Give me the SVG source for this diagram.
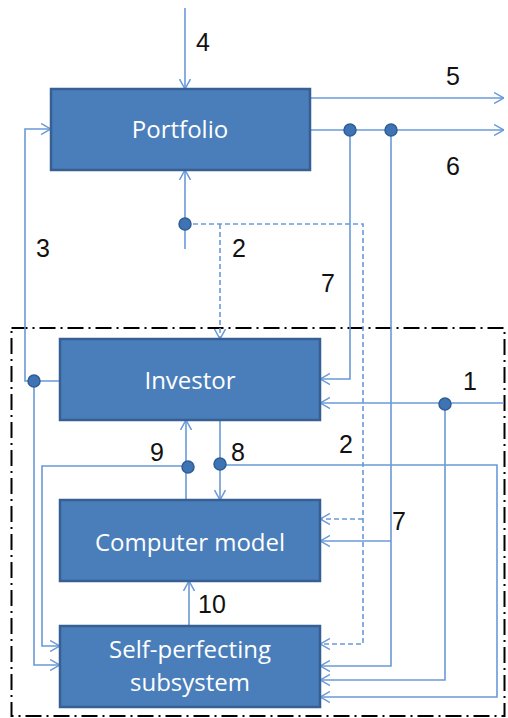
<svg xmlns="http://www.w3.org/2000/svg" width="508" height="718" viewBox="0 0 508 718">
<style>
.box{fill:#4a7ebb;stroke:#375f93;stroke-width:2.5}
.bt{font-family:"Open Sans","Liberation Sans",sans-serif;font-size:24px;fill:#ffffff;text-anchor:middle}
.ln{fill:none;stroke:#6a9ad8;stroke-width:1.6}
.ds{fill:none;stroke:#6a9ad8;stroke-width:1.6;stroke-dasharray:5 3}
.dot{fill:#3f74b4;stroke:#2f5d94;stroke-width:1.5}
.lab{font-family:"Liberation Sans",Arial,sans-serif;font-size:25px;fill:#111111}
.frame{fill:none;stroke:#000000;stroke-width:2;stroke-dasharray:16 5 2 5}
</style>
<defs>
<marker id="ah" viewBox="0 0 10 12" refX="10" refY="6" markerWidth="10" markerHeight="12" markerUnits="userSpaceOnUse" orient="auto">
<path d="M0,0.5 L10,6 L0,11.5" fill="none" stroke="#6a9ad8" stroke-width="1.5"/>
</marker>
</defs>
<rect class="frame" x="11.5" y="328" width="493" height="388"/>
<g id="connectors">
<path class="ln" d="M185,8 V89" marker-end="url(#ah)"/>
<path class="ln" d="M60,381 H25 V129 H51" marker-end="url(#ah)"/>
<path class="ln" d="M34,381 V665 H60" marker-end="url(#ah)"/>
<path class="ln" d="M186,500 V420" marker-end="url(#ah)"/>
<path class="ln" d="M187,466 H42 V646 H60" marker-end="url(#ah)"/>
<path class="ln" d="M220,420 V500" marker-end="url(#ah)"/>
<path class="ln" d="M220,465 H497 V697 H320" marker-end="url(#ah)"/>
<path class="ln" d="M504,403 H320" marker-end="url(#ah)"/>
<path class="ln" d="M445,403 V680 H320" marker-end="url(#ah)"/>
<path class="ln" d="M310,98 H504" marker-end="url(#ah)"/>
<path class="ln" d="M310,130 H504" marker-end="url(#ah)"/>
<path class="ln" d="M350,130 V379 H320" marker-end="url(#ah)"/>
<path class="ln" d="M391,130 V666 H320" marker-end="url(#ah)"/>
<path class="ln" d="M391,541 H320" marker-end="url(#ah)"/>
<path class="ln" d="M185,249 V170" marker-end="url(#ah)"/>
<path class="ds" d="M185,224 H363 V644 H320" marker-end="url(#ah)"/>
<path class="ds" d="M220,224 V339" marker-end="url(#ah)"/>
<path class="ds" d="M363,519 H320" marker-end="url(#ah)"/>
<path class="ln" d="M189,626 V581" marker-end="url(#ah)"/>
<circle class="dot" cx="185" cy="224" r="6"/>
<circle class="dot" cx="350" cy="130" r="6"/>
<circle class="dot" cx="391" cy="130" r="6"/>
<circle class="dot" cx="34" cy="381" r="6"/>
<circle class="dot" cx="445" cy="404" r="6"/>
<circle class="dot" cx="188" cy="467" r="6"/>
<circle class="dot" cx="220" cy="464" r="6"/>
</g>
<g id="portfolio">
<rect class="box" x="51" y="89" width="259" height="81"/>
<text class="bt" x="180" y="138">Portfolio</text>
</g>
<g id="investor">
<rect class="box" x="60" y="339" width="260" height="81"/>
<text class="bt" x="190" y="389">Investor</text>
</g>
<g id="computer-model">
<rect class="box" x="60" y="500" width="260" height="81"/>
<text class="bt" x="190" y="551">Computer model</text>
</g>
<g id="self-perfecting">
<rect class="box" x="60" y="626" width="260" height="81"/>
<text class="bt" x="190" y="658">Self-perfecting</text>
<text class="bt" x="190" y="691">subsystem</text>
</g>
<g id="labels">
<text class="lab" x="196" y="51">4</text>
<text class="lab" x="446" y="85">5</text>
<text class="lab" x="446" y="175">6</text>
<text class="lab" x="36" y="257">3</text>
<text class="lab" x="232" y="257">2</text>
<text class="lab" x="321" y="292">7</text>
<text class="lab" x="463" y="390">1</text>
<text class="lab" x="339" y="453">2</text>
<text class="lab" x="150" y="461">9</text>
<text class="lab" x="231" y="461">8</text>
<text class="lab" x="392" y="530">7</text>
<text class="lab" x="198" y="613">10</text>
</g>
</svg>
